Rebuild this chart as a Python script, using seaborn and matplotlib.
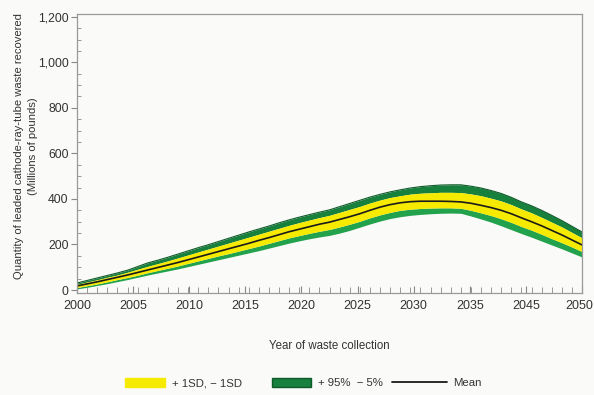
import numpy as np
import pandas as pd
import matplotlib
matplotlib.use("Agg")
import matplotlib.pyplot as plt
import matplotlib.transforms as mtransforms
from matplotlib.patches import Patch
from matplotlib.lines import Line2D
from matplotlib.ticker import MultipleLocator
import seaborn as sns

years = list(range(2000, 2051))
mean = [18, 27, 36, 46, 56, 66, 77, 88, 99, 110, 121, 133, 145, 157, 169, 181, 193, 205, 218, 230,
        243, 256, 267, 278, 289, 298, 310, 322, 335, 350, 364, 375, 383, 388, 390, 390, 390, 389, 387, 381,
        372, 362, 350, 335, 317, 300, 282, 262, 242, 220, 198]
p95 = [31, 42, 53, 64, 75, 87, 103, 119, 131, 144, 158, 172, 186, 199, 213, 227, 241, 255, 268, 281,
       295, 308, 320, 331, 342, 352, 366, 380, 394, 408, 420, 431, 440, 448, 454, 458, 461, 462, 462, 456,
       448, 437, 424, 407, 387, 370, 350, 328, 305, 280, 255]
p5 = [5, 12, 20, 28, 37, 46, 56, 66, 75, 84, 93, 103, 113, 123, 133, 143, 153, 163, 173, 184,
      195, 206, 216, 225, 233, 240, 250, 262, 276, 290, 303, 314, 322, 328, 332, 335, 337, 338, 337, 325,
      312, 298, 282, 265, 248, 232, 215, 198, 181, 163, 145]
sd_hi = [25, 35, 45, 56, 66, 78, 91, 104, 116, 128, 141, 154, 167, 180, 193, 206, 219, 232, 245, 258,
         271, 284, 296, 307, 318, 328, 341, 354, 367, 382, 395, 406, 414, 421, 425, 427, 429, 429, 428, 422,
         414, 403, 391, 375, 356, 339, 319, 298, 277, 253, 229]
sd_lo = [11, 19, 27, 36, 46, 55, 65, 76, 86, 96, 106, 117, 128, 139, 150, 160, 171, 182, 193, 205,
         217, 229, 239, 249, 258, 266, 277, 289, 302, 317, 330, 341, 350, 355, 358, 360, 361, 361, 359, 350,
         339, 327, 313, 297, 279, 263, 245, 226, 208, 189, 169]

x_tick_labels = ["2000", "2005", "2010", "2015", "2020", "2025", "2030", "2035", "2045", "2050"]
y_ticks = [0, 200, 400, 600, 800, 1000, 1200]
y_tick_labels = ["0", "200", "400", "600", "800", "1,000", "1,200"]
legend_labels = ["+ 1SD, \u2212 1SD", "+ 95%  \u2212 5%", "Mean"]

df = pd.DataFrame({"year": years, "mean": mean, "p95": p95, "p5": p5,
                   "sd_hi": sd_hi, "sd_lo": sd_lo})

sns.set_style("white")
plt.rcParams["font.family"] = ["Liberation Sans", "DejaVu Sans"]

bg = "#fafaf8"
txt = "#333333"
fig = plt.figure(figsize=(5.94, 3.95), dpi=100, facecolor=bg)
ax = fig.add_axes([77 / 594, 1 - 293 / 395, (582 - 77) / 594, (293 - 14) / 395])
ax.set_facecolor(bg)

green_dark = "#17803d"
green_light = "#22a24d"
yellow = "#f6ea00"

ax.fill_between(df["year"], df["sd_hi"], df["p95"], color=green_dark, lw=0)
ax.fill_between(df["year"], df["p5"], df["sd_lo"], color=green_light, lw=0)
ax.fill_between(df["year"], df["sd_lo"], df["sd_hi"], color=yellow, lw=0)
ax.plot(df["year"], df["p95"], color="#0f5a2a", lw=0.8)
sns.lineplot(data=df, x="year", y="mean", color="#1a1a1a", lw=1.2, ax=ax)

ax.set_xlim(2000, 2050)
ax.set_ylim(-13, 1212)
ax.set_xticks(np.linspace(2000, 2050, len(x_tick_labels)))
ax.set_xticklabels(x_tick_labels)
ax.xaxis.set_minor_locator(MultipleLocator(1))
ax.set_yticks(y_ticks)
ax.set_yticklabels(y_tick_labels)
ax.yaxis.set_minor_locator(MultipleLocator(50))

ax.tick_params(axis="x", which="major", direction="in", length=5, width=0.8, color="#888888",
               labelsize=9.0, labelcolor=txt, pad=5)
ax.tick_params(axis="x", which="minor", direction="in", length=4, width=0.6, color="#888888")
ax.tick_params(axis="y", which="major", direction="out", length=4, width=0.8, color="#888888",
               labelsize=8.8, labelcolor=txt, pad=2)
ax.tick_params(axis="y", which="minor", direction="in", length=3, width=0.6, color="#888888")
ax.tick_params(bottom=True, left=True, which="both")

# nudge the last x label slightly left so it stays inside the figure
last = ax.get_xticklabels()[-1]
last.set_transform(last.get_transform() + mtransforms.ScaledTranslation(-3 / 100, 0, fig.dpi_scale_trans))

for s in ax.spines.values():
    s.set_visible(True)
    s.set_color("#9a9a9a")
    s.set_linewidth(0.9)

ax.set_xlabel("Year of waste collection", fontsize=8.3, color=txt, labelpad=20)
ax.set_ylabel("Quantity of leaded cathode-ray-tube waste recovered\n(Millions of pounds)",
              fontsize=8.1, color=txt, linespacing=1.6, va="center")
ax.yaxis.set_label_coords((26 - 77) / 505, (293 - 146) / 279)

handles = [Patch(facecolor=yellow, edgecolor=yellow),
           Patch(facecolor=green_dark, edgecolor="#0f5a2a"),
           Line2D([0], [0], color="#1a1a1a", lw=1.3)]
legend_x = [125, 272, 392]
handle_len = [3.5, 3.4, 4.8]
yl = 1 - 383 / 395
for h, lab, xx, hl in zip(handles, legend_labels, legend_x, handle_len):
    lg = fig.legend([h], [lab], loc="center left", bbox_to_anchor=(xx / 594, yl),
                    frameon=False, fontsize=8.2, handlelength=hl, handleheight=0.95,
                    handletextpad=0.6, borderaxespad=0, borderpad=0, labelcolor=txt)

fig.savefig("out.png", dpi=100, facecolor=bg)
